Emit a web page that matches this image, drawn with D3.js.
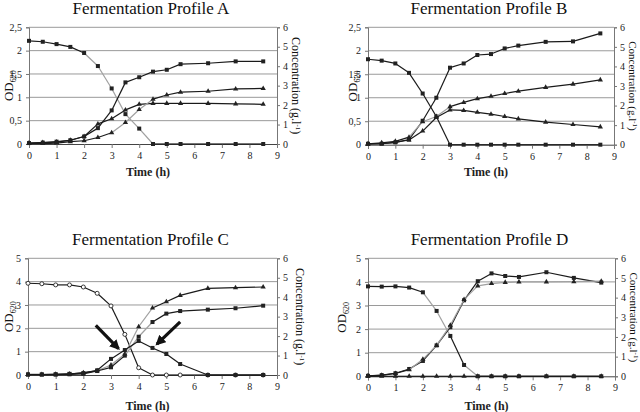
<!DOCTYPE html>
<html><head><meta charset="utf-8">
<script src="https://cdn.jsdelivr.net/npm/d3@7"></script>
<style>
html,body{margin:0;padding:0;background:#fff;}
svg{display:block;}
svg text{font-family:'Liberation Serif','Times New Roman',Times,serif;}
</style></head>
<body>
<svg id="c" width="640" height="412"></svg>
<script>
// ---- data (values read against the left OD axis of each panel) ----
const times = [0,0.5,1,1.5,2,2.5,3,3.5,4,4.5,5,5.5,6.5,7.5,8.5];
const xTicks = [0,1,2,3,4,5,6,7,8,9];
const odTicksAB = [0,0.5,1,1.5,2,2.5];
const odTicksCD = [0,1,2,3,4,5];
const concTicks = [0,1,2,3,4,5,6];
const panelTitles = ["Fermentation Profile A","Fermentation Profile B","Fermentation Profile C","Fermentation Profile D"];

const aGlucose  = [2.21,2.19,2.14,2.08,1.95,1.67,1.19,0.64,0.33,0,0,0,0,0,0];
const aProduct  = [0.02,0.03,0.05,0.08,0.16,0.34,0.72,1.32,1.43,1.55,1.59,1.71,1.73,1.77,1.77];
const aBiomass  = [0.02,0.03,0.04,0.08,0.16,0.43,0.54,0.73,0.85,0.87,0.87,0.87,0.87,0.86,0.85];
const aLate     = [0.01,0.01,0.02,0.05,0.07,0.14,0.24,0.46,0.74,0.96,1.05,1.11,1.13,1.18,1.19];

const bGlucose  = [1.82,1.79,1.73,1.53,1.09,0.60,0,0,0,0,0,0,0,0,0];
const bProduct  = [0.02,0.02,0.05,0.11,0.51,1.00,1.64,1.73,1.91,1.93,2.05,2.11,2.19,2.20,2.37];
const bRising   = [0.02,0.04,0.07,0.16,0.49,0.60,0.81,0.90,0.98,1.03,1.09,1.14,1.22,1.29,1.38];
const bPeak     = [0.01,0.02,0.05,0.10,0.29,0.58,0.74,0.73,0.69,0.65,0.60,0.55,0.48,0.43,0.38];

const cGlucose  = [3.93,3.91,3.86,3.86,3.77,3.50,2.96,1.74,0.31,0,0,0,0,0,0];
const cRising   = [0.02,0.02,0.03,0.04,0.10,0.18,0.43,0.90,2.07,2.87,3.14,3.41,3.71,3.74,3.77];
const cProduct  = [0.02,0.02,0.02,0.03,0.05,0.17,0.33,0.83,1.64,2.27,2.63,2.74,2.80,2.86,2.97];
const cPeak     = [0.02,0.02,0.03,0.05,0.08,0.20,0.69,1.07,1.46,1.16,0.90,0.47,0,0,0];

const dGlucose  = [3.81,3.80,3.81,3.76,3.56,2.77,1.71,0.48,0,0,0,0,0,0,0];
const dProduct  = [0.02,0.05,0.13,0.31,0.65,1.31,2.08,3.22,4.03,4.36,4.25,4.21,4.41,4.17,3.97];
const dRising   = [0.02,0.04,0.12,0.28,0.72,1.31,2.16,3.25,3.83,3.93,3.98,4.00,4.00,4.01,4.03];
const dZero     = [0,0,0,0,0,0,0,0,0,0,0,0,0,0,0];

// arrows in panel C (time, OD)
const arrowsC = [[[2.45,2.13],[3.27,1.13]],[[5.5,2.28],[4.66,1.32]]];

// ---- layout / style ----
const FONT = "'Liberation Serif','Times New Roman',Times,serif";
const panels = [
  {title:panelTitles[0], x0:29,  x1:277, y0:144, y1:27.3, odMax:2.5, odTicks:odTicksAB, titleY:14,
   odX:13, concX:292, concFs:12, timeY:176,
   series:[
    {v:aGlucose, m:"sq", gray:[4,5,6,7,8]},
    {v:aProduct, m:"sq", gray:[]},
    {v:aBiomass, m:"tri", gray:[]},
    {v:aLate, m:"tri", gray:[6,7,8]}]},
  {title:panelTitles[1], x0:368, x1:614, y0:144.7, y1:27.3, odMax:2.5, odTicks:odTicksAB, titleY:14,
   odX:357, concX:628.5, concFs:11, timeY:176,
   series:[
    {v:bGlucose, m:"sq", gray:[]},
    {v:bProduct, m:"sq", gray:[]},
    {v:bRising, m:"tri", gray:[3,4,5]},
    {v:bPeak, m:"tri", gray:[]}]},
  {title:panelTitles[2], x0:28, x1:277, y0:375, y1:258.3, odMax:5, odTicks:odTicksCD, titleY:245,
   odX:13, concX:296, concFs:12, timeY:410,
   series:[
    {v:cGlucose, m:"circ", gray:[]},
    {v:cRising, m:"tri", gray:[5,6,7,8]},
    {v:cProduct, m:"sq", gray:[7,8]},
    {v:cPeak, m:"sq", gray:[]}]},
  {title:panelTitles[3], x0:368, x1:615, y0:376.3, y1:258.3, odMax:5, odTicks:odTicksCD, titleY:245,
   odX:346, concX:629.5, concFs:11, timeY:410,
   series:[
    {v:dGlucose, m:"sq", gray:[4,5,7]},
    {v:dProduct, m:"sq", gray:[]},
    {v:dRising, m:"tri", gray:[3,4,5,6,7,8,9,10,11,12,13]},
    {v:dZero, m:"tri", gray:[]}]}
];

const svg = d3.select("#c");
const fmt = d => String(d).replace(".", ",");

panels.forEach((p, pi) => {
  const g = svg.append("g");
  const x = d3.scaleLinear().domain([0,9]).range([p.x0, p.x1]);
  const y = d3.scaleLinear().domain([0,p.odMax]).range([p.y0, p.y1]);
  const yc = d3.scaleLinear().domain([0,6]).range([p.y0, p.y1]);
  const cx = (p.x0 + p.x1) / 2;

  g.append("text").attr("x", cx - 2).attr("y", p.titleY).attr("text-anchor","middle")
    .attr("font-family", FONT).attr("font-size", 17).attr("fill","#111").text(p.title);

  g.append("g").selectAll("line").data(p.odTicks.filter(d => d > 0)).join("line")
    .attr("x1", p.x0).attr("x2", p.x1).attr("y1", d => y(d)).attr("y2", d => y(d))
    .attr("stroke", "#9a9a9a").attr("stroke-width", 1);

  const la = g.append("g").attr("transform", `translate(${p.x0},0)`)
    .call(d3.axisLeft(y).tickValues(p.odTicks).tickFormat(fmt).tickSize(3).tickPadding(4));
  const ra = g.append("g").attr("transform", `translate(${p.x1},0)`)
    .call(d3.axisRight(yc).tickValues(concTicks).tickFormat(d => d).tickSize(3).tickPadding(3));
  const ba = g.append("g").attr("transform", `translate(0,${p.y0})`)
    .call(d3.axisBottom(x).tickValues(xTicks).tickFormat(d => d).tickSize(4).tickPadding(4));
  [la, ra, ba].forEach(a => {
    a.attr("font-family", FONT);
    a.select(".domain").attr("stroke", "#777");
    a.selectAll(".tick line").attr("stroke", "#777");
    a.selectAll("text").attr("font-family", FONT).attr("font-size", 10).attr("fill", "#222");
  });
  ba.select(".domain").attr("stroke", "#444");

  const od = g.append("text").attr("transform", `translate(${p.odX},${(p.y0 + p.y1) / 2}) rotate(-90)`)
    .attr("text-anchor", "middle").attr("font-family", FONT).attr("font-size", 13).attr("fill", "#111");
  od.append("tspan").text("OD");
  od.append("tspan").attr("font-size", 8).attr("dy", 3).text("620");

  const ct = g.append("text").attr("transform", `translate(${p.concX},${(p.y0 + p.y1) / 2}) rotate(90)`)
    .attr("text-anchor", "middle").attr("font-family", FONT).attr("font-size", p.concFs).attr("fill", "#111");
  ct.append("tspan").text("Concentration (g.l");
  ct.append("tspan").attr("font-size", 7).attr("dy", -4).text("-1");
  ct.append("tspan").attr("dy", 4).text(")");

  g.append("text").attr("x", cx - 5).attr("y", p.timeY).attr("text-anchor", "middle")
    .attr("font-family", FONT).attr("font-size", 12).attr("font-weight", "bold").attr("fill", "#222").text("Time (h)");

  p.series.forEach(s => {
    const pts = times.map((t, i) => [x(t), y(s.v[i])]);
    const segs = d3.pairs(pts).map((pr, i) => ({pr, gray: s.gray.includes(i)}));
    g.append("g").selectAll("line").data(segs).join("line")
      .attr("x1", d => d.pr[0][0]).attr("y1", d => d.pr[0][1])
      .attr("x2", d => d.pr[1][0]).attr("y2", d => d.pr[1][1])
      .attr("stroke", d => d.gray ? "#a0a0a0" : "#1a1a1a").attr("stroke-width", 1.2);
    const mk = g.append("g");
    if (s.m === "sq") {
      mk.selectAll("rect").data(pts).join("rect")
        .attr("x", d => d[0] - 2).attr("y", d => d[1] - 2).attr("width", 4).attr("height", 4)
        .attr("fill", "#222");
    } else if (s.m === "tri") {
      mk.selectAll("path").data(pts).join("path")
        .attr("d", d3.symbol(d3.symbolTriangle, 12))
        .attr("transform", d => `translate(${d[0]},${d[1]})`).attr("fill", "#222");
    } else {
      mk.selectAll("circle").data(pts).join("circle")
        .attr("cx", d => d[0]).attr("cy", d => d[1]).attr("r", 2)
        .attr("fill", "#fff").attr("stroke", "#222").attr("stroke-width", 0.9);
    }
  });

  if (pi === 2) {
    const defs = svg.append("defs");
    defs.append("marker").attr("id", "ah").attr("viewBox", "0 0 10 10").attr("refX", 8).attr("refY", 5)
      .attr("markerWidth", 3.2).attr("markerHeight", 3.2).attr("orient", "auto")
      .append("path").attr("d", "M0,0L10,5L0,10Z").attr("fill", "#111");
    g.append("g").selectAll("line").data(arrowsC).join("line")
      .attr("x1", d => x(d[0][0])).attr("y1", d => y(d[0][1]))
      .attr("x2", d => x(d[1][0])).attr("y2", d => y(d[1][1]))
      .attr("stroke", "#111").attr("stroke-width", 3.2).attr("marker-end", "url(#ah)");
  }
});
</script>
</body></html>
